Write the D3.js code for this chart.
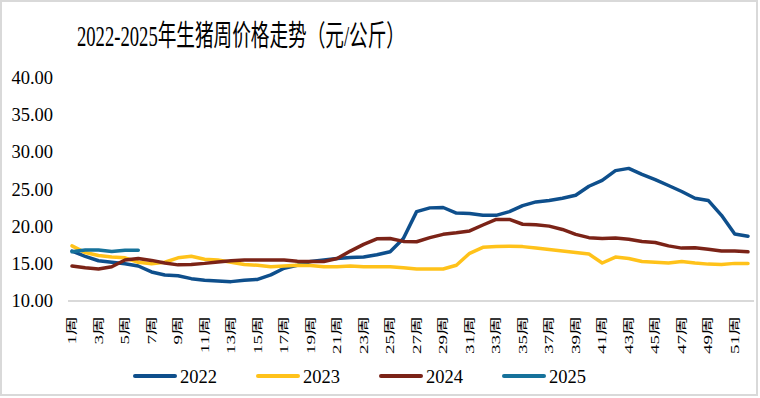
<!DOCTYPE html>
<html>
<head>
<meta charset="utf-8">
<script src="https://cdn.jsdelivr.net/npm/d3@7"></script>
<style>
    body { margin: 0; background: #fff; }
</style>
</head>
<body>
<script>
// weeks on the x axis
var weeks = d3.range(1, 53);
// weekly price per year (元/公斤)
var prices2022 = [16.7, 16.0, 15.4, 15.2, 15.0, 14.7, 13.9, 13.5, 13.4, 13.0, 12.8, 12.7, 12.6, 12.8, 12.9, 13.5,
    14.4, 14.8, 15.3, 15.5, 15.7, 15.85, 15.9, 16.2, 16.6, 18.4, 22.0, 22.5, 22.55, 21.8, 21.75, 21.5, 21.5, 22.0,
    22.8, 23.3, 23.5, 23.8, 24.2, 25.4, 26.2, 27.5, 27.8, 27.0, 26.3, 25.5, 24.7, 23.8, 23.5, 21.5, 19.0, 18.7];
var prices2023 = [17.4, 16.5, 16.1, 15.9, 15.8, 15.2, 15.0, 15.2, 15.8, 16.0, 15.6, 15.5, 15.2, 14.9, 14.8, 14.6,
    14.7, 14.8, 14.75, 14.6, 14.6, 14.7, 14.6, 14.6, 14.6, 14.45, 14.3, 14.3, 14.3, 14.8, 16.4, 17.2, 17.3, 17.35,
    17.3, 17.1, 16.9, 16.7, 16.5, 16.3, 15.1, 15.9, 15.7, 15.3, 15.2, 15.1, 15.3, 15.1, 14.95, 14.9, 15.05, 15.05];
var prices2024 = [14.7, 14.45, 14.3, 14.6, 15.5, 15.7, 15.45, 15.1, 14.85, 14.9, 15.05, 15.25, 15.4, 15.5, 15.5, 15.5,
    15.5, 15.35, 15.3, 15.3, 15.7, 16.7, 17.6, 18.35, 18.4, 18.0, 17.95, 18.5, 18.95, 19.15, 19.4, 20.2, 20.95, 20.95,
    20.3, 20.25, 20.05, 19.6, 18.95, 18.5, 18.4, 18.45, 18.3, 18.0, 17.85, 17.4, 17.1, 17.15, 16.95, 16.7, 16.7, 16.6];
var prices2025 = [16.6, 16.85, 16.85, 16.65, 16.8, 16.8];
var years = ["2022", "2023", "2024", "2025"];
var colors = ["#0e4f8c", "#ffc21a", "#7b2317", "#16729b"];
var yTicks = [10, 15, 20, 25, 30, 35, 40];

var series = [prices2022, prices2023, prices2024, prices2025];

var width = 760, height = 398;

const svg = d3.select("body").append("svg")
    .attr("width", width)
    .attr("height", height);

// outer frame
svg.append("rect")
    .attr("x", 1).attr("y", 1)
    .attr("width", 756).attr("height", 394)
    .attr("fill", "#fff")
    .attr("stroke", "#d9d9d9")
    .attr("stroke-width", 2);

// title, squeezed sideways like the original
svg.append("text")
    .attr("x", 77)
    .attr("y", 46)
    .attr("textLength", 328)
    .attr("lengthAdjust", "spacingAndGlyphs")
    .style("font-family", "'Liberation Serif', 'Noto Sans CJK SC'")
    .style("font-size", "29px")
    .style("fill", "#000")
    .text("2022-2025年生猪周价格走势（元/公斤）");

let x = d3.scalePoint().domain(weeks).range([72, 748]);
let y = d3.scaleLinear().domain([10, 40]).range([301, 77.5]);

// y labels, no axis line
svg.append("g")
    .selectAll("text")
    .data(yTicks)
    .join("text")
    .attr("x", 53)
    .attr("y", d => y(d))
    .attr("dy", "0.35em")
    .attr("text-anchor", "end")
    .style("font-family", "'Liberation Serif'")
    .style("font-size", "18.5px")
    .style("fill", "#000")
    .text(d => d3.format(".2f")(d));

// x baseline
svg.append("line")
    .attr("x1", 68).attr("x2", 754)
    .attr("y1", y(10)).attr("y2", y(10))
    .attr("stroke", "#d9d9d9")
    .attr("stroke-width", 2);

// x labels every other week, vertical
svg.append("g")
    .selectAll("text")
    .data(weeks.filter(d => d % 2 === 1))
    .join("text")
    .attr("transform", d => "translate(" + x(d) + ",316) rotate(-90) scale(1,0.62)")
    .attr("dy", "0.35em")
    .attr("text-anchor", "end")
    .style("font-family", "'Liberation Serif', 'Noto Sans CJK SC'")
    .style("font-size", "19px")
    .style("fill", "#000")
    .text(d => d + "周");

// lines
const line = d3.line()
    .x((d, i) => x(weeks[i]))
    .y(d => y(d));

svg.append("g")
    .selectAll("path")
    .data(series)
    .join("path")
    .attr("fill", "none")
    .attr("stroke", (d, i) => colors[i])
    .attr("stroke-width", 3.5)
    .attr("stroke-linejoin", "round")
    .attr("stroke-linecap", "round")
    .attr("d", d => line(d));

// legend
const legend = svg.append("g")
    .selectAll("g")
    .data(years)
    .join("g")
    .attr("transform", (d, i) => "translate(" + (135 + i * 123) + ",376)");

legend.append("line")
    .attr("x1", 0).attr("x2", 40)
    .attr("stroke", (d, i) => colors[i])
    .attr("stroke-width", 4)
    .attr("stroke-linecap", "round");

legend.append("text")
    .attr("x", 45)
    .attr("y", 7)
    .style("font-family", "'Liberation Serif'")
    .style("font-size", "18.5px")
    .style("fill", "#000")
    .text(d => d);
</script>
</body>
</html>
